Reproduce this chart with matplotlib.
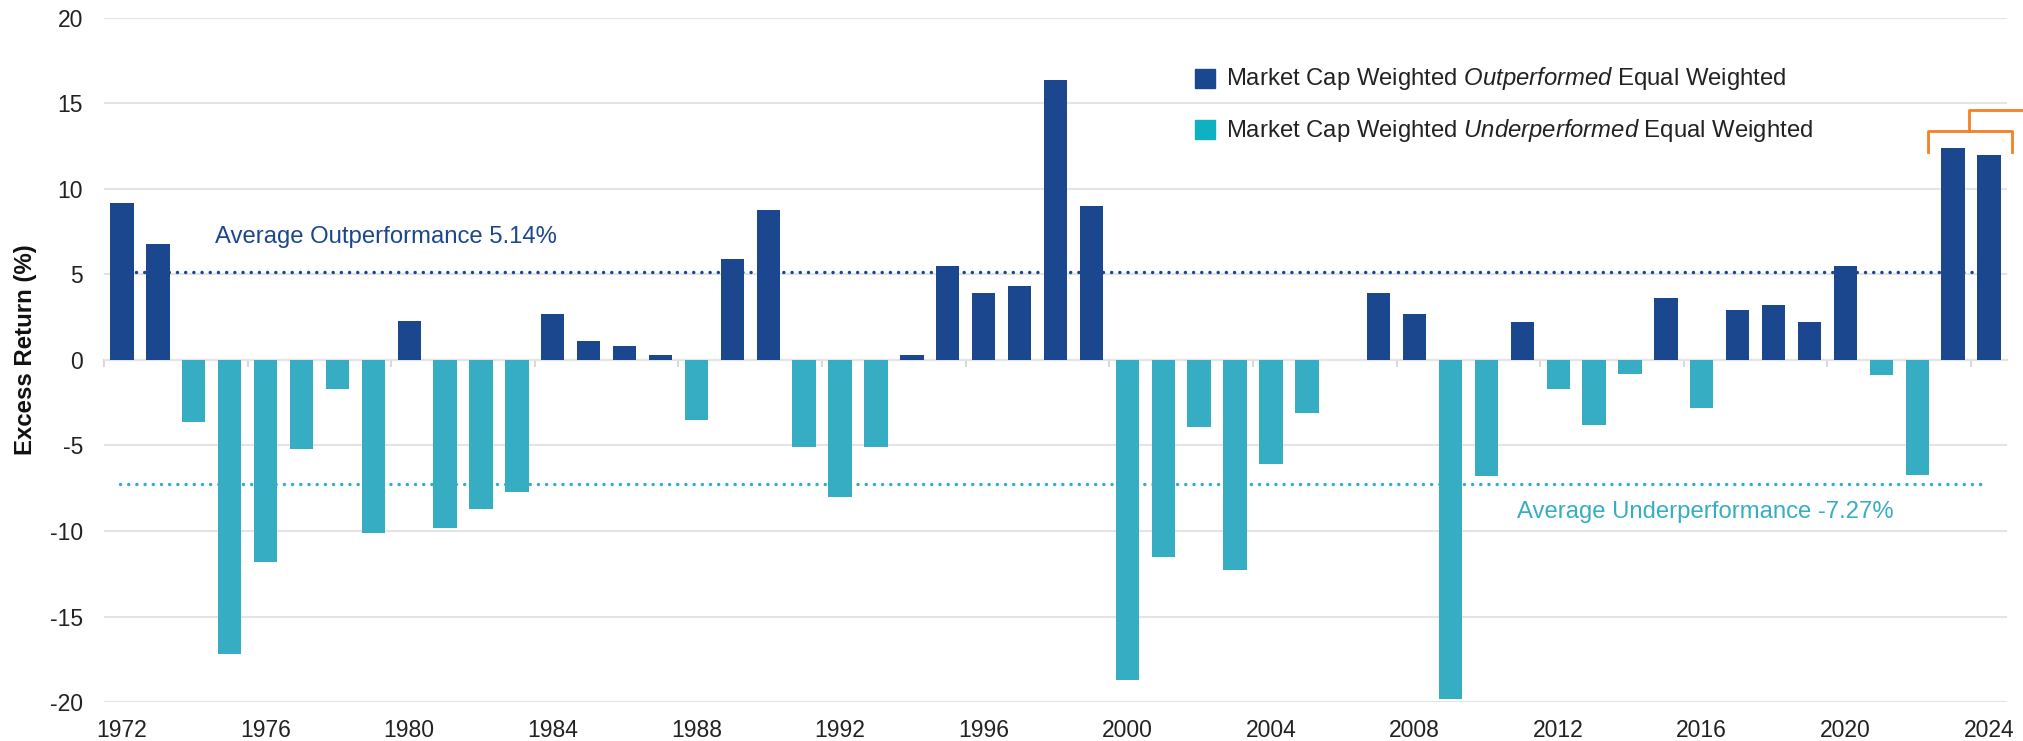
import matplotlib
matplotlib.use("Agg")
import matplotlib.pyplot as plt
from matplotlib.patches import Rectangle

# data
years = list(range(1972, 2025))
excess = [9.2, 6.8, -3.6, -17.2, -11.8, -5.2, -1.7, -10.1, 2.3, -9.8,
          -8.7, -7.7, 2.7, 1.1, 0.8, 0.3, -3.5, 5.9, 8.8, -5.1,
          -8.0, -5.1, 0.3, 5.5, 3.9, 4.3, 16.4, 9.0, -18.7, -11.5,
          -3.9, -12.3, -6.1, -3.1, 0.0, 3.9, 2.7, -19.8, -6.8, 2.2,
          -1.7, -3.8, -0.8, 3.6, -2.8, 2.9, 3.2, 2.2, 5.5, -0.9,
          -6.7, 12.4, 12.0]
avg_out = 5.14
avg_under = -7.27
year_labels = list(range(1972, 2025, 4))

blue = '#1b478e'
teal = '#37adc4'
teal_legend = '#0db1c0'
orange = '#f58025'

plt.rcParams['font.family'] = ['Liberation Sans', 'DejaVu Sans']
plt.rcParams['axes.unicode_minus'] = False
plt.rcParams['mathtext.fontset'] = 'custom'
plt.rcParams['mathtext.rm'] = 'Liberation Sans'
plt.rcParams['mathtext.it'] = 'Liberation Sans:italic'

fig = plt.figure(figsize=(20.24, 7.41), dpi=100)
ax = fig.add_axes([104/2024, 1 - 702/741, (2007-104)/2024, (702-18)/741])

colors = [blue if v > 0 else teal for v in excess]
ax.bar(years, excess, width=0.65, color=colors, zorder=2)

ax.set_xlim(1971.5, 2024.5)
ax.set_ylim(-20, 20)
ax.set_yticks(range(-20, 21, 5))
ax.yaxis.grid(True, color='#e4e4e4', lw=1.5, zorder=0)
ax.tick_params(axis='y', length=0, pad=15, labelsize=16.5, labelcolor='#222222')

# zero axis with small category-group ticks
for s in ['top', 'right', 'left']:
    ax.spines[s].set_visible(False)
ax.spines['bottom'].set_position(('data', 0))
ax.spines['bottom'].set_color('#d9d9d9')
ax.spines['bottom'].set_linewidth(1.5)
ax.spines['bottom'].set_zorder(1)
ax.set_xticks([1971.5 + 4 * k for k in range(14)])
ax.tick_params(axis='x', length=5, width=1.5, color='#d9d9d9', labelbottom=False)

sec = ax.secondary_xaxis(0)
sec.set_xticks(year_labels)
sec.set_xticklabels([str(y) for y in year_labels])
sec.tick_params(length=0, pad=12, labelsize=16.5, labelcolor='#222222')
sec.spines['bottom'].set_visible(False)

ax.set_ylabel('Excess Return (%)', fontsize=17.3, fontweight='bold', color='#111111')
ax.yaxis.set_label_coords(-0.035, 0.515)

# average lines
ax.plot([1972.4, 2023.7], [avg_out, avg_out], color=blue, lw=2.5,
        ls=(0, (0.01, 2.35)), dash_capstyle='round', zorder=3)
ax.plot([1971.95, 2023.8], [avg_under, avg_under], color=teal, lw=2.5,
        ls=(0, (0.01, 2.35)), dash_capstyle='round', zorder=3)
ax.text(1974.6, 7.2, f'Average Outperformance {avg_out:.2f}%', color=blue,
        fontsize=17.2, va='center', ha='left')
ax.text(2010.85, -8.9, f'Average Underperformance {avg_under:.2f}%', color=teal,
        fontsize=17.2, va='center', ha='left')

# legend
fig.patches.append(Rectangle((1195/2024, 1 - 88/741), 20/2024, 19/741,
                             transform=fig.transFigure, color=blue))
fig.patches.append(Rectangle((1195/2024, 1 - 139/741), 20/2024, 19/741,
                             transform=fig.transFigure, color=teal_legend))
fig.text(1226/2024, 1 - 79/741,
         r'Market Cap Weighted $\mathit{Outperformed}$ Equal Weighted',
         fontsize=17.2, color='#222222', va='center', ha='left')
fig.text(1226/2024, 1 - 130/741,
         r'Market Cap Weighted $\mathit{Underperformed}$ Equal Weighted',
         fontsize=17.2, color='#222222', va='center', ha='left')

# orange bracket over the last two bars
ax.plot([2022.29, 2022.29, 2024.63, 2024.63], [12.16, 13.39, 13.39, 12.16],
        color=orange, lw=2, clip_on=False, zorder=4)
ax.plot([2023.43, 2023.43, 2025.1], [13.39, 14.62, 14.62],
        color=orange, lw=2, clip_on=False, zorder=4)

fig.savefig('out.png', dpi=100)
